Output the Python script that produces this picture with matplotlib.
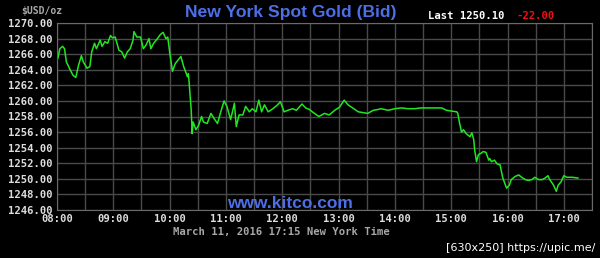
import matplotlib
matplotlib.use("Agg")
import matplotlib.pyplot as plt
import numpy as np

# minutes after 08:00 and bid price
minutes = [1, 3, 6, 8, 10, 14, 17, 20, 23, 26, 28, 32, 35, 37, 40, 42, 46, 48, 51, 54,
           57, 59, 62, 66, 69, 72, 75, 78, 81, 82, 85, 89, 92, 95, 98, 100, 103, 107,
           110, 113, 116, 118, 120, 123, 126, 132, 135, 139, 140, 141, 143, 144, 145,
           148, 151, 154, 156, 160, 164, 167, 171, 174, 178, 181, 185, 189, 191, 194,
           198, 201, 205, 208, 212, 215, 218, 221, 225, 230, 235, 238, 242, 246, 251,
           255, 261, 265, 269, 272, 279, 285, 290, 296, 301, 306, 310, 315, 321, 326,
           331, 337, 342, 345, 353, 360, 367, 374, 381, 388, 395, 402, 410, 415, 420,
           426, 427, 429, 431, 433, 436, 440, 442, 444, 445, 447, 449, 452, 454, 457,
           460, 461, 463, 466, 469, 472, 475, 479, 482, 484, 488, 492, 495, 499, 502,
           506, 509, 513, 517, 520, 523, 525, 529, 532, 534, 537, 540, 543, 549, 555]
price = [1265.5, 1266.7, 1267.0, 1266.7, 1265.0, 1264.0, 1263.3, 1263.0, 1264.6, 1265.8,
         1265.0, 1264.2, 1264.4, 1266.3, 1267.4, 1266.7, 1267.8, 1267.0, 1267.6, 1267.4,
         1268.4, 1268.1, 1268.2, 1266.5, 1266.3, 1265.5, 1266.3, 1266.7, 1267.8, 1268.9,
         1268.2, 1268.2, 1266.7, 1267.2, 1268.0, 1266.7, 1267.4, 1268.0, 1268.5, 1268.8,
         1268.0, 1268.2, 1266.3, 1263.8, 1264.8, 1265.7, 1264.4, 1263.1, 1263.5, 1262.0,
         1258.8, 1255.8, 1257.3, 1256.3, 1256.9, 1258.0, 1257.3, 1257.1, 1258.4, 1257.8,
         1257.1, 1258.4, 1260.0, 1259.3, 1257.6, 1259.7, 1256.7, 1258.2, 1258.2, 1259.3,
         1258.6, 1259.0, 1258.6, 1260.1, 1258.6, 1259.5, 1258.6, 1259.0, 1259.5, 1259.9,
         1258.6, 1258.8, 1259.0, 1258.8, 1259.6, 1259.1, 1258.9, 1258.6, 1258.0, 1258.4,
         1258.2, 1258.8, 1259.2, 1260.1, 1259.5, 1259.1, 1258.6, 1258.5, 1258.4, 1258.8,
         1258.9, 1259.0, 1258.8, 1259.0, 1259.1, 1259.0, 1259.0, 1259.1, 1259.1, 1259.1,
         1259.1, 1258.8, 1258.7, 1258.6, 1258.4, 1257.1, 1256.0, 1256.3, 1255.8, 1255.4,
         1255.9, 1255.0, 1253.7, 1252.2, 1253.1, 1253.3, 1253.5, 1253.4, 1252.4, 1252.6,
         1252.2, 1252.4, 1251.9, 1251.8, 1250.1, 1248.8, 1249.2, 1249.9, 1250.3, 1250.5,
         1250.2, 1249.9, 1249.8, 1249.9, 1250.2, 1249.9, 1249.9, 1250.1, 1250.4, 1249.9,
         1249.2, 1248.4, 1249.2, 1249.6, 1250.4, 1250.2, 1250.2, 1250.1]

hour_labels = ["08:00", "09:00", "10:00", "11:00", "12:00", "13:00", "14:00", "15:00", "16:00", "17:00"]
y_ticks = np.arange(1246, 1271, 2)

mono = "DejaVu Sans Mono"
fig = plt.figure(figsize=(6, 2.58), dpi=100, facecolor="black")
ax = fig.add_axes([57/600, 1-210/258, 535/600, 187/258])
ax.set_facecolor("black")
ax.plot(minutes, price, color="#22e622", lw=1.1)

ax.set_xlim(0, 570)
ax.set_ylim(1246, 1270)
ax.set_xticks(np.arange(0, 541, 60))
ax.set_xticklabels(hour_labels, family=mono, fontsize=7.6, fontweight="bold", color="#dddddd")
ax.set_xticks(np.arange(30, 571, 60), minor=True)
ax.set_yticks(y_ticks)
ax.set_yticklabels(["%.2f" % v for v in y_ticks], family=mono, fontsize=7.6,
                   fontweight="bold", color="#dddddd")
ax.tick_params(which="both", length=0, pad=3)
ax.grid(True, which="both", color="#4a4a4a", lw=1)
for s in ax.spines.values():
    s.set_color("#6a6a6a")

fig.text(291/600, 1-12/258, "New York Spot Gold (Bid)", ha="center", va="center",
         family="Liberation Sans", fontweight="bold", fontsize=12.6, color="#4d6fe6")
fig.text(42/600, 1-11/258, "$USD/oz", ha="center", va="center", family=mono,
         fontsize=7, fontweight="bold", color="#aaaaaa")
fig.text(428/600, 1-16/258, "Last 1250.10", ha="left", va="center", family=mono,
         fontsize=7.6, fontweight="bold", color="white")
fig.text(517/600, 1-16/258, "-22.00", ha="left", va="center", family=mono,
         fontsize=7.6, fontweight="bold", color="#ee1111")
fig.text(290/600, 1-203/258, "www.kitco.com", ha="center", va="center",
         family="Liberation Sans", fontweight="bold", fontsize=12.5, color="#4d6fe6")
fig.text(281/600, 1-232/258, "March 11, 2016 17:15 New York Time", ha="center", va="center",
         family=mono, fontsize=7.6, fontweight="bold", color="#a8a8a8")
fig.text(595/600, 1-248/258, "[630x250] https://upic.me/", ha="right", va="center",
         family="DejaVu Sans", fontsize=8, color="white")

fig.savefig("out.png", dpi=100, facecolor="black")
